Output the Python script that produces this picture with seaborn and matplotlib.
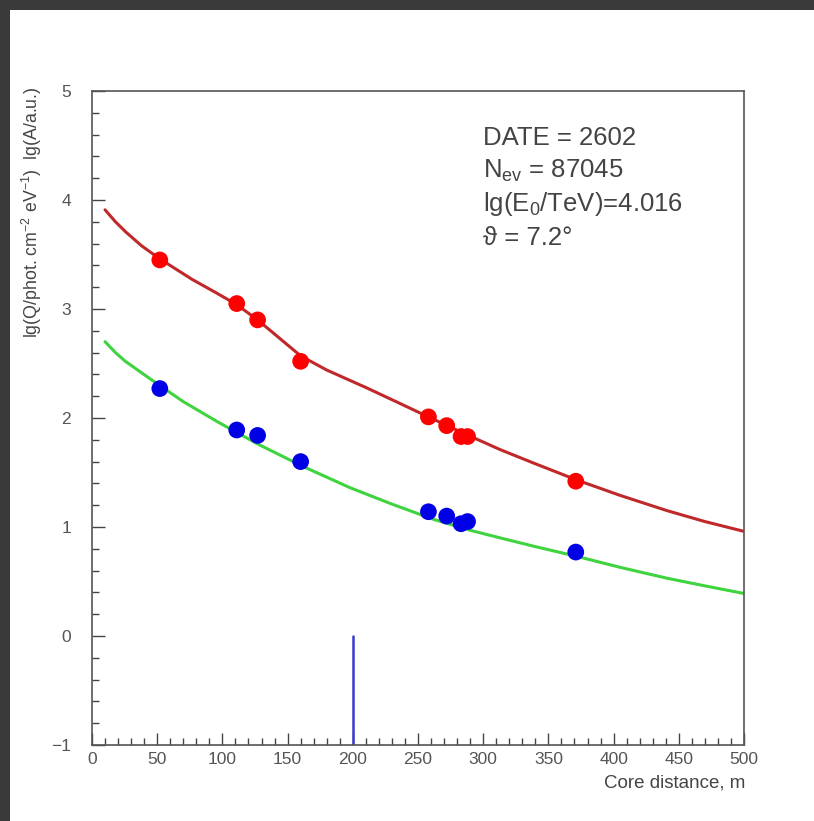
import numpy as np
import pandas as pd
import matplotlib
matplotlib.use("Agg")
import matplotlib.pyplot as plt
import seaborn as sns
from matplotlib.patches import Rectangle
from matplotlib.ticker import MultipleLocator

# ---- data ----
dist_pts = [52, 111, 127, 160, 258, 272, 283, 288, 371]
q_pts = [3.45, 3.05, 2.90, 2.52, 2.01, 1.93, 1.83, 1.83, 1.42]      # red
a_pts = [2.27, 1.89, 1.84, 1.60, 1.14, 1.10, 1.03, 1.05, 0.77]      # blue

red_x = [10, 18, 25.6, 38, 52, 77, 95, 111, 127, 143, 160, 180, 210, 235, 258,
         285, 313, 340, 372, 405, 441, 470, 500]
red_y = [3.91, 3.80, 3.71, 3.58, 3.46, 3.27, 3.15, 3.04, 2.90, 2.74, 2.57, 2.44,
         2.28, 2.14, 2.01, 1.86, 1.71, 1.58, 1.43, 1.29, 1.15, 1.05, 0.96]

green_x = [10, 18, 25.6, 44.5, 70, 95.6, 112, 129, 161, 198, 230, 262, 290, 313,
           340, 372, 405, 441, 470, 500]
green_y = [2.70, 2.60, 2.52, 2.36, 2.15, 1.97, 1.86, 1.75, 1.56, 1.36, 1.21, 1.07,
           0.97, 0.90, 0.82, 0.73, 0.63, 0.53, 0.46, 0.39]

marker_x = [200, 200]
marker_y = [-1, 0]

info_lines = ["DATE = 2602",
              r"N$_{\mathregular{ev}}$ = 87045",
              r"lg(E$_{\mathregular{0}}$/TeV)=4.016",
              "\u03d1 = 7.2\u00b0"]

xticks = [0, 50, 100, 150, 200, 250, 300, 350, 400, 450, 500]
yticks = [-1, 0, 1, 2, 3, 4, 5]

sns.set_theme(style="white")
plt.rcParams['font.family'] = ['Liberation Sans', 'DejaVu Sans']
plt.rcParams['mathtext.fontset'] = 'custom'
plt.rcParams['mathtext.rm'] = 'Liberation Sans'
plt.rcParams['mathtext.it'] = 'Liberation Sans'

W, H = 814, 821
fig = plt.figure(figsize=(W / 100, H / 100), dpi=100)
fig.patch.set_facecolor('#3a3a3a')
fig.patches.append(Rectangle((10 / W, 0), 1 - 10 / W, 1 - 10 / H,
                             transform=fig.transFigure, facecolor='white',
                             edgecolor='none', zorder=-5))

ax = fig.add_axes([92 / W, 1 - 745 / H, (744 - 92) / W, (745 - 91) / H])
ax.set_zorder(2)
ax.set_facecolor('white')

df_red = pd.DataFrame({'x': red_x, 'y': red_y})
df_green = pd.DataFrame({'x': green_x, 'y': green_y})
df_q = pd.DataFrame({'x': dist_pts, 'y': q_pts})
df_a = pd.DataFrame({'x': dist_pts, 'y': a_pts})
df_m = pd.DataFrame({'x': marker_x, 'y': marker_y})

sns.lineplot(data=df_red, x='x', y='y', ax=ax, color='#c0282a', linewidth=2.2,
             sort=True, estimator=None, zorder=2)
sns.lineplot(data=df_green, x='x', y='y', ax=ax, color='#3fd43f', linewidth=2.2,
             sort=True, estimator=None, zorder=2)
sns.scatterplot(data=df_q, x='x', y='y', ax=ax, color='#ff0000', s=145,
                edgecolor='none', zorder=3)
sns.scatterplot(data=df_a, x='x', y='y', ax=ax, color='#0000e6', s=145,
                edgecolor='none', zorder=3)
sns.lineplot(data=df_m, x='x', y='y', ax=ax, color='#3a3acc', linewidth=1.8,
             estimator=None, sort=False, zorder=2)

ax.set_xlim(0, 500)
ax.set_ylim(-1, 5)
ax.set_xticks(xticks)
ax.set_yticks(yticks)
ax.set_xticklabels([str(t) for t in xticks])
ax.set_yticklabels([str(t).replace('-', '\u2212') for t in yticks])
ax.xaxis.set_minor_locator(MultipleLocator(10))
ax.yaxis.set_minor_locator(MultipleLocator(0.2))
ax.tick_params(which='both', direction='in', bottom=True, left=True,
               top=False, right=False, color='#444444', width=1.0)
ax.tick_params(which='major', length=9)
ax.tick_params(which='minor', length=5)
ax.tick_params(axis='x', which='major', labelsize=12.5, labelcolor='#555555', pad=5)
ax.tick_params(axis='y', which='major', labelsize=12.5, labelcolor='#555555', pad=15)
for sp in ax.spines.values():
    sp.set_color('#555555')
    sp.set_linewidth(1.2)
    sp.set_visible(True)

ax.set_xlabel('')
ax.set_ylabel('')

fig.text(745 / W, 1 - 783 / H, 'Core distance, m', ha='right', va='center',
         fontsize=13.5, color='#444444')
fig.text(32 / W, 1 - 86 / H,
         r"lg(Q/phot. cm$^{\mathregular{-2}}$ eV$^{\mathregular{-1}}$)  lg(A/a.u.)",
         rotation=90, ha='center', va='top', fontsize=12.8, color='#444444')

ys = [138, 171, 204, 238]
for t, yy in zip(info_lines, ys):
    fig.text(483 / W, 1 - yy / H, t, ha='left', va='center', fontsize=18.5,
             color='#444444')

fig.savefig('out.png', dpi=100, facecolor=fig.get_facecolor())
